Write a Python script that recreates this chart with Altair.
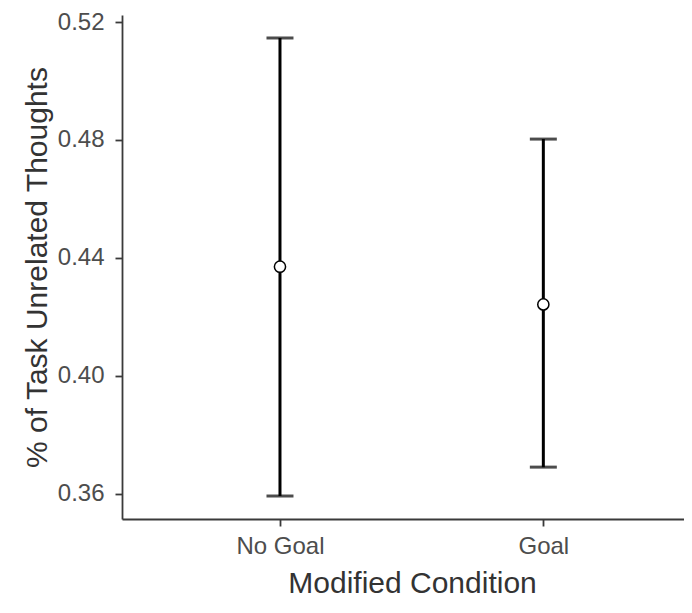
import altair as alt
import pandas as pd

# Data
conditions = ["No Goal", "Goal"]
means = [0.4370, 0.4242]
lower = [0.3592, 0.3690]
upper = [0.5146, 0.4803]
y_ticks = [0.36, 0.40, 0.44, 0.48, 0.52]

df = pd.DataFrame({"cond": conditions, "mean": means, "lower": lower, "upper": upper})

FONT = "Liberation Sans"

x_enc = alt.X(
    "cond:N",
    sort=conditions,
    scale=alt.Scale(type="point", padding=0.567, align=0.529),
    axis=alt.Axis(
        title="Modified Condition",
        labelAngle=0,
        labelFontSize=24,
        labelPadding=8,
        tickSize=7,
        titleFontSize=30,
        titlePadding=10,
        titleX=290,
    ),
)

y_scale = alt.Scale(domain=[0.3514, 0.5224], nice=False, zero=False)
y_axis = alt.Axis(
    title="% of Task Unrelated Thoughts",
    values=y_ticks,
    format=".2f",
    labelFontSize=24,
    labelPadding=11,
    tickSize=7,
    titleFontSize=30,
    titlePadding=5,
)

base = alt.Chart(df)

rule = base.mark_rule(color="black", strokeWidth=3).encode(
    x=x_enc,
    y=alt.Y("lower:Q", scale=y_scale, axis=y_axis),
    y2="upper:Q",
)
cap_hi = base.mark_tick(color="black", orient="horizontal", size=27, thickness=3).encode(
    x=alt.X("cond:N", sort=conditions),
    y=alt.Y("upper:Q"),
)
cap_lo = base.mark_tick(color="black", orient="horizontal", size=27, thickness=3).encode(
    x=alt.X("cond:N", sort=conditions),
    y=alt.Y("lower:Q"),
)
pts = base.mark_point(
    shape="circle", filled=True, fill="white", stroke="black", strokeWidth=1.5, size=125, opacity=1
).encode(
    x=alt.X("cond:N", sort=conditions),
    y=alt.Y("mean:Q"),
)

chart = (
    alt.layer(rule, cap_hi, cap_lo, pts)
    .properties(
        width=562,
        height=504,
        autosize=alt.AutoSizeParams(type="none"),
        padding={"left": 114, "top": 7, "right": 0, "bottom": 79},
    )
    .configure_view(stroke=None)
    .configure_axis(
        labelFont=FONT,
        titleFont=FONT,
        labelColor="#4d4d4d",
        titleColor="#333333",
        titleFontWeight="normal",
        domainColor="#3a3a3a",
        domainWidth=1.8,
        tickColor="#3a3a3a",
        tickWidth=1.8,
        grid=False,
    )
)

chart.save("out.html", embed_options={"renderer": "svg", "actions": False})
